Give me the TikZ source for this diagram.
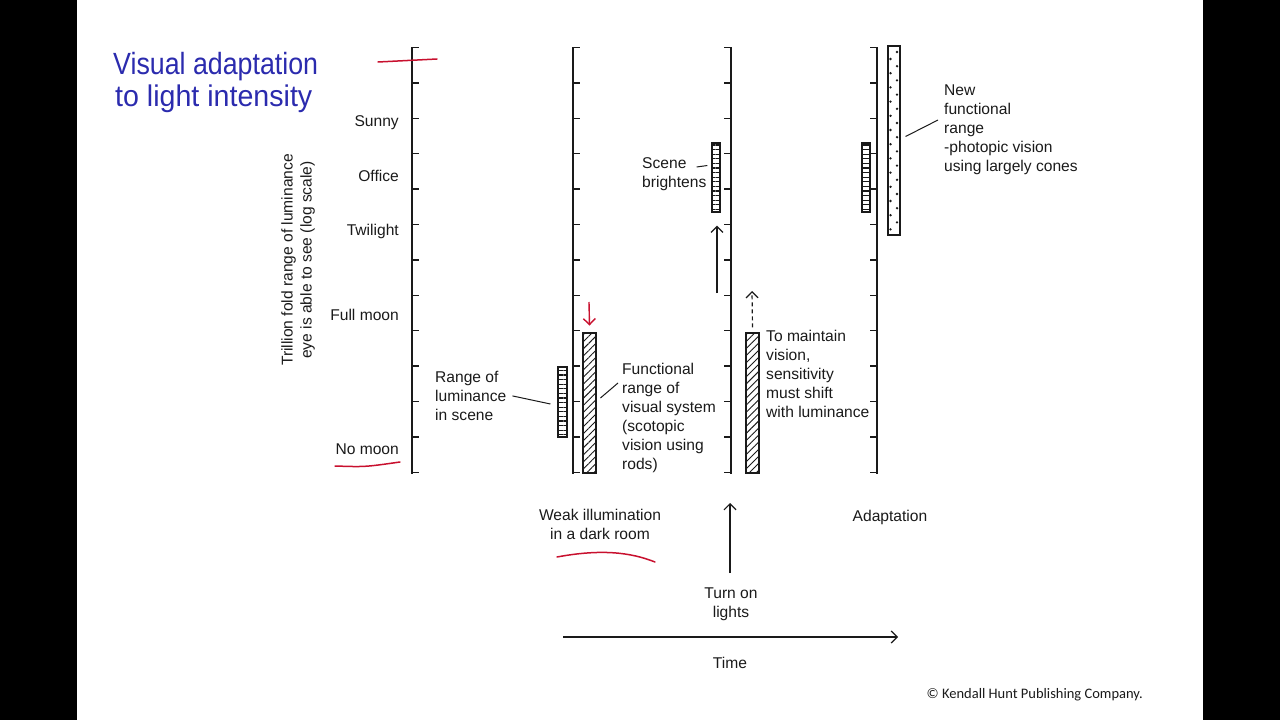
\documentclass[tikz,border=0pt]{standalone}
\usepackage{fontspec}
\setmainfont{Liberation Sans}
\newfontfamily\creditfont{Carlito}
\usepackage{tikz}
\usetikzlibrary{arrows.meta,positioning,patterns.meta}
\definecolor{Ink}{HTML}{1A1A1A}
\definecolor{Pen}{HTML}{2B2BAE}
\definecolor{Marker}{HTML}{C8102E}
\definecolor{Frame}{HTML}{000000}

\begin{document}
\begin{tikzpicture}[x=1pt,y=-1pt,
  lbl/.style={font=\fontsize{15.6}{19}\selectfont,inner sep=0pt,text=Ink},
  note/.style={lbl,align=left,anchor=north west},
  axisline/.style={draw=Ink,line width=1.6pt},
  tick/.style={draw=Ink,line width=1.4pt},
  hatchbar/.style={draw=Ink,line width=1.1pt,inner sep=0pt,minimum width=13pt,minimum height=140pt,
    pattern={Lines[angle=45,distance=5pt,line width=0.9pt]},pattern color=Ink},
  ladder/.style={draw=Ink,line width=1.2pt,inner sep=0pt,minimum width=8pt,minimum height=69pt,
    pattern={Lines[angle=0,distance=4.6pt,line width=1.1pt]},pattern color=Ink},
  dotbar/.style={draw=Ink,line width=1.1pt,inner sep=0pt,minimum width=12pt,minimum height=189pt},
  leader/.style={draw=Ink,line width=1pt},
  arr/.style={draw=Ink,line width=1.2pt,-{Straight Barb[length=6pt,width=12pt]}},
  redpen/.style={draw=Marker,line width=1.5pt,line cap=round},
  hand/.style={font=\fontsize{26}{30}\selectfont,text=Pen,inner sep=0pt,anchor=base west}
]
\useasboundingbox (0,0) rectangle (1280,720);
\fill[Frame] (0,0) rectangle (77,720);
\fill[Frame] (1203,0) rectangle (1280,720);

% handwritten title
\node[hand] (title1) at (113,74) {\scalebox{1.03}[1.18]{Visual adaptation}};
\node[hand] (title2) at (115,106) {\scalebox{1.1}[1.15]{to light intensity}};

% four luminance scales
\foreach \ax/\dir in {412/1,573/1,731/-1,877/-1} {
  \draw[axisline] (\ax,47) -- (\ax,474);
  \foreach \k in {0,...,12} {
    \draw[tick] (\ax,{47.5+35.4*\k}) -- ++({7*\dir},0);
  }
}

% scale labels
\node[lbl,anchor=base east] (sunny) at (399,126) {Sunny};
\node[lbl,anchor=base east] (office) at (399,181) {Office};
\node[lbl,anchor=base east] (twilight) at (399,235) {Twilight};
\node[lbl,anchor=base east] (fullmoon) at (399,320) {Full moon};
\node[lbl,anchor=base east] (nomoon) at (399,454) {No moon};
\node[lbl,rotate=90,align=center] (ylab) at (298,260) {Trillion fold range of luminance\\eye is able to see (log scale)};

% bars
\node[ladder,minimum width=9pt,minimum height=70pt] (scene1) at (562.5,402) {};
\node[hatchbar] (func1) at (589.5,403) {};
\node[ladder] (scene2) at (716,177.5) {};
\node[hatchbar] (func2) at (752.5,403) {};
\node[ladder] (scene3) at (866,177.5) {};
\node[dotbar] (newbar) at (894,140.5) {};
\foreach \k in {0,...,12} {
  \fill[Ink] (897,{52+14.2*\k}) circle[radius=1.3pt];
  \fill[Ink] (890.5,{59+14.2*\k}) circle[radius=1.3pt];
}

% notes
\node[note] (rangetxt) at (435,371) {Range of\\luminance\\in scene};
\node[note] (functxt) at (622,363) {Functional\\range of\\visual system\\(scotopic\\vision using\\rods)};
\node[note] (brighttxt) at (642,157) {Scene\\brightens};
\node[note] (shifttxt) at (766,330) {To maintain\\vision,\\sensitivity\\must shift\\with luminance};
\node[note] (newtxt) at (944,85) {New\\functional\\range\\-photopic vision\\using largely cones};

\draw[leader] ([xshift=6pt]rangetxt.east) -- ([shift={(-7,2)}]scene1.west);
\draw[leader] ([shift={(4,-5)}]func1.east) -- ([shift={(-4,20)}]functxt.north west);
\draw[leader] ([shift={(-10,10)}]brighttxt.north east) -- ([shift={(-4,-12)}]scene2.west);
\draw[leader] ([shift={(5,-4)}]newbar.east) -- ([shift={(-6,35)}]newtxt.north west);

% shifts of the range
\coordinate (redtail) at (589,302);
\draw[arr,draw=Marker,line width=1.4pt] (redtail) -- ([yshift=7pt]func1.north);
\coordinate (uptail) at (717,293);
\draw[arr] (uptail) -- ([shift={(1,13)}]scene2.south);
\coordinate (dashtip) at (752,291);
\draw[arr,dashed,dash pattern=on 4pt off 3pt] ([yshift=5pt]func2.north) -- (dashtip);

% stages along time
\node[lbl,align=center,anchor=north] (weak) at (600,509) {Weak illumination\\in a dark room};
\node[lbl,anchor=base] (adapt) at (890,521) {Adaptation};
\node[lbl,align=center,anchor=north] (turnon) at (731,588) {Turn on\\lights};
\coordinate (lighttip) at (730,503);
\draw[arr] ([xshift=-1pt,yshift=15pt]turnon.north) -- (lighttip);
\coordinate (t0) at (563,637);
\coordinate (t1) at (898,637);
\draw[arr] (t0) -- (t1);
\node[lbl,anchor=base] (time) at (730,668) {Time};

\node[font=\creditfont\fontsize{14.5}{16}\selectfont,text=Ink,anchor=base east,inner sep=0pt] (credit) at (1143,698) {© Kendall Hunt Publishing Company.};

% red pen marks
\draw[redpen] (378,62) -- (437,59);
\draw[redpen] (335,466) .. controls (365,467) .. (400,462);
\draw[redpen] (557,557) .. controls (600,549) and (630,552) .. (655,562);
\end{tikzpicture}
\end{document}
